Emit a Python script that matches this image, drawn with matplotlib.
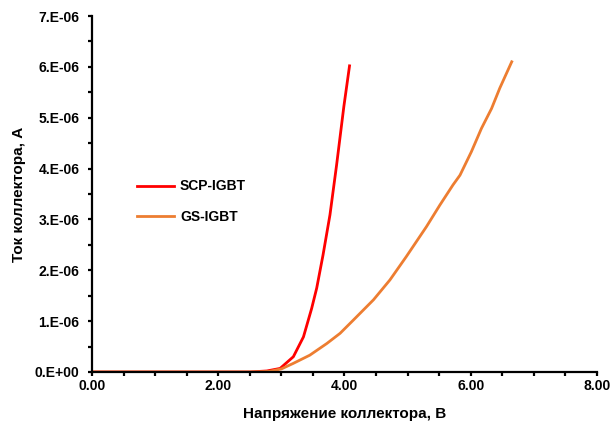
import numpy as np
import matplotlib
matplotlib.use("Agg")
import matplotlib.pyplot as plt
from matplotlib.ticker import MultipleLocator, FuncFormatter

plt.rcParams["font.family"] = ["Liberation Sans", "DejaVu Sans"]
plt.rcParams["font.weight"] = "bold"

# --- Data (current in microamps) ---
scp_v = [0.0, 0.5, 1.0, 1.5, 2.0, 2.5, 2.77, 2.98, 3.19, 3.35, 3.48, 3.56,
         3.66, 3.77, 3.875, 3.99, 4.08]
scp_i = [0.0, 0.0, 0.0, 0.0, 0.0, 0.0, 0.02, 0.07, 0.30, 0.69, 1.25, 1.65,
         2.30, 3.09, 4.07, 5.22, 6.02]

gs_v = [0.0, 0.5, 1.0, 1.5, 2.0, 2.5, 2.8, 3.0, 3.19, 3.45, 3.72, 3.93, 4.14,
        4.46, 4.72, 4.98, 5.30, 5.51, 5.72, 5.83, 6.01, 6.17, 6.33, 6.46, 6.65]
gs_i = [0.0, 0.0, 0.0, 0.0, 0.0, 0.0, 0.01, 0.06, 0.17, 0.33, 0.56, 0.76, 1.02,
        1.42, 1.81, 2.27, 2.86, 3.28, 3.68, 3.87, 4.33, 4.79, 5.18, 5.58, 6.10]

labels = ["SCP-IGBT", "GS-IGBT"]

fig = plt.figure(figsize=(6.11, 4.26), dpi=100)
ax = fig.add_axes([0.1506, 0.1268, 0.8264, 0.8356])

ax.plot(scp_v, np.array(scp_i) * 1e-6, color="#FF0000", lw=2.0, label=labels[0])
ax.plot(gs_v, np.array(gs_i) * 1e-6, color="#ED7D31", lw=2.0, label=labels[1])

ax.set_xlim(0, 8)
ax.set_ylim(0, 7e-6)
ax.xaxis.set_major_locator(MultipleLocator(2))
ax.xaxis.set_minor_locator(MultipleLocator(0.5))
ax.yaxis.set_major_locator(MultipleLocator(1e-6))
ax.yaxis.set_minor_locator(MultipleLocator(0.5e-6))
ax.xaxis.set_major_formatter(FuncFormatter(lambda v, p: f"{v:.2f}"))
ax.yaxis.set_major_formatter(FuncFormatter(lambda v, p: f"{v:#.0E}"))

for s in ["top", "right"]:
    ax.spines[s].set_visible(False)
for s in ["left", "bottom"]:
    ax.spines[s].set_linewidth(1.6)
    ax.spines[s].set_color("black")

ax.tick_params(which="both", direction="out", width=1.6, length=3, labelsize=10)
ax.tick_params(axis="x", pad=2)
ax.tick_params(axis="y", pad=6)

ax.set_xlabel("Напряжение коллектора, В", fontsize=11, fontweight="bold", labelpad=10)
ax.set_ylabel("Ток коллектора, А", fontsize=11, fontweight="bold", labelpad=6)

ax.legend(loc="center left", bbox_to_anchor=(0.089, 0.478), frameon=False,
          borderaxespad=0, borderpad=0, handlelength=2.7, handletextpad=0.4,
          labelspacing=1.2, prop={"size": 10, "weight": "bold"})

plt.savefig("out.png", dpi=100)
